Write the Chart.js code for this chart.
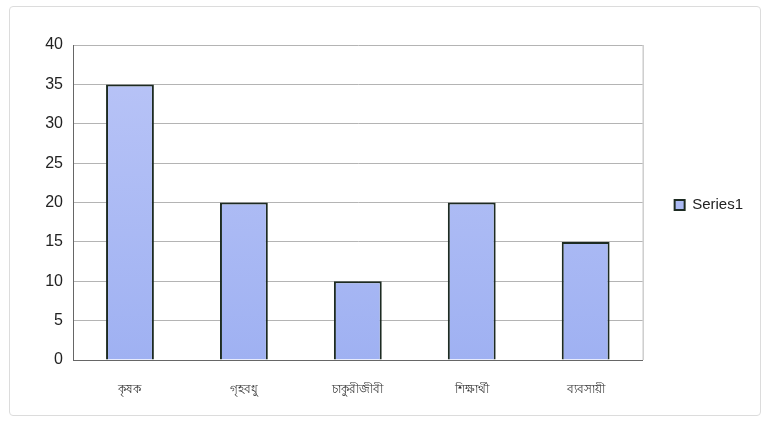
<!DOCTYPE html>
<html><head><meta charset="utf-8">
<script src="https://cdn.jsdelivr.net/npm/chart.js@4"></script>
<style>
html,body{margin:0;padding:0;background:#fff;}
#wrap{position:absolute;left:0;top:0;width:767px;height:431px;}
#frame{position:absolute;left:9px;top:6px;width:750px;height:408px;border:1px solid #dcdcdc;border-radius:4px;pointer-events:none;}
</style></head>
<body>
<div id="wrap"><canvas id="c" width="767" height="431"></canvas><div id="frame"></div></div>
<script>
const categories = ["কৃষক", "গৃহবধু", "চাকুরীজীবী", "শিক্ষার্থী", "ব্যবসায়ী"];
const seriesName = "Series1";
const values = [35, 20, 10, 20, 15];
const yMin = 0, yMax = 40, yStep = 5;

const ctx = document.getElementById('c');
new Chart(ctx, {
  type: 'bar',
  data: {
    labels: categories,
    datasets: [{
      label: seriesName,
      data: values,
      backgroundColor: function(c){
        const ch = c.chart; const a = ch.chartArea;
        if(!a) return '#aab8f3';
        const g = ch.ctx.createLinearGradient(0, a.top, 0, a.bottom);
        g.addColorStop(0, '#bac5f7');
        g.addColorStop(1, '#9fb1f2');
        return g;
      },
      borderColor: '#1d2b22',
      borderWidth: 2,
      barPercentage: 0.84,
      categoryPercentage: 0.5
    }]
  },
  options: {
    responsive: false,
    animation: false,
    layout: { padding: { top: 45, left: 0, right: 14, bottom: 0 } },
    plugins: {
      legend: {
        position: 'right',
        labels: {
          font: { family: 'Liberation Sans, Arial', size: 15 },
          color: '#222',
          boxWidth: 10, boxHeight: 10,
          padding: 10
        }
      },
      tooltip: { enabled: false }
    },
    scales: {
      y: {
        min: yMin, max: yMax,
        ticks: { stepSize: yStep, color: '#222', font: { family: 'Liberation Sans, Arial', size: 16 }, padding: 10 },
        grid: { color: '#b4b4b4', lineWidth: 1, drawTicks: false },
        border: { color: '#666', width: 1 },
        afterFit: function(s){ s.width = 73; }
      },
      yR: {
        position: 'right',
        display: true,
        ticks: { display: false },
        grid: { display: false, drawTicks: false },
        border: { display: false },
        afterFit: function(s){ s.width = 22; }
      },
      x: {
        ticks: { color: '#333', font: { size: 12 }, padding: 14, maxRotation: 0, autoSkip: false },
        grid: { display: false },
        border: { color: '#666', width: 1 },
        afterFit: function(s){ s.height = 71; }
      }
    }
  },
  plugins: [{
    id: 'legendShift',
    afterLayout(ch){
      const l = ch.legend;
      if (l) { l.top -= 33; l.bottom -= 33; }
    }
  }, {
    id: 'rightline',
    afterDraw(ch){
      const a = ch.chartArea, c = ch.ctx;
      c.save(); c.strokeStyle = '#b4b4b4'; c.lineWidth = 1;
      c.beginPath(); c.moveTo(a.right + 0.5, a.top); c.lineTo(a.right + 0.5, a.bottom); c.stroke();
      c.restore();
    }
  }]
});
</script>
</body></html>
